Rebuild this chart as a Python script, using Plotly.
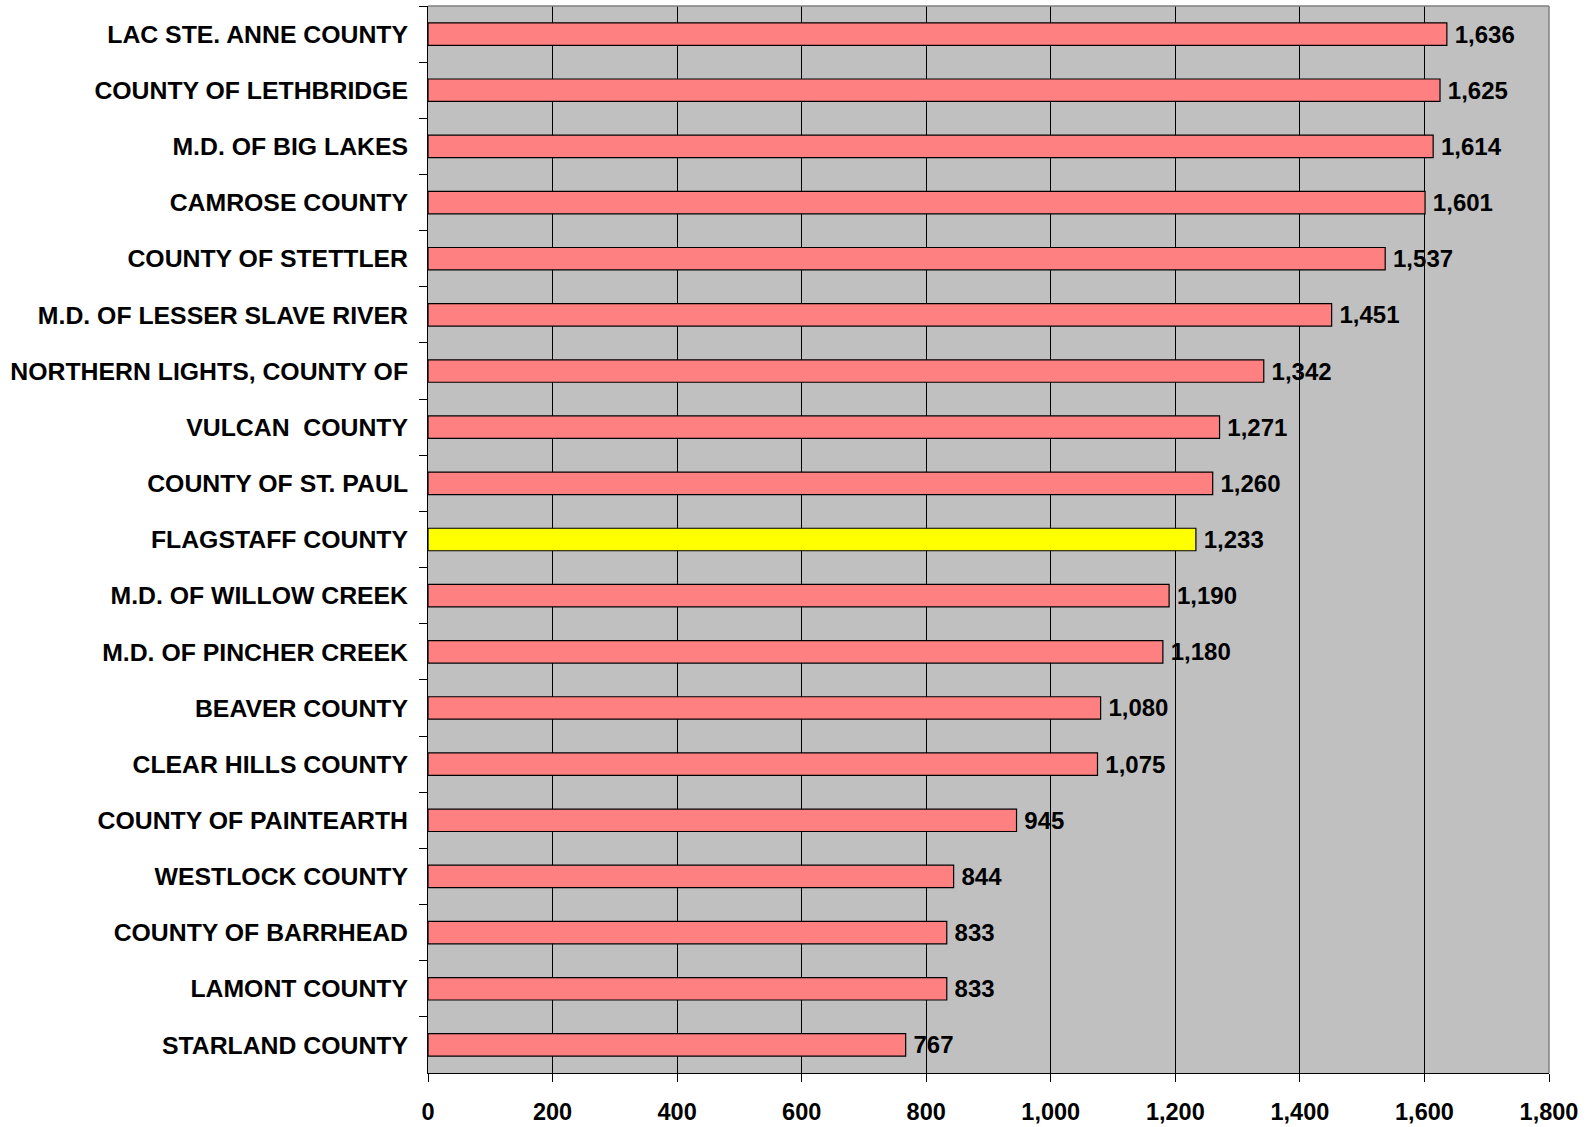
import plotly.graph_objects as go

# ==========================================
# Data (top to bottom, as shown)
# ==========================================
counties = [
    "LAC STE. ANNE COUNTY",
    "COUNTY OF LETHBRIDGE",
    "M.D. OF BIG LAKES",
    "CAMROSE COUNTY",
    "COUNTY OF STETTLER",
    "M.D. OF LESSER SLAVE RIVER",
    "NORTHERN LIGHTS, COUNTY OF",
    "VULCAN\u00a0 COUNTY",
    "COUNTY OF ST. PAUL",
    "FLAGSTAFF COUNTY",
    "M.D. OF WILLOW CREEK",
    "M.D. OF PINCHER CREEK",
    "BEAVER COUNTY",
    "CLEAR HILLS COUNTY",
    "COUNTY OF PAINTEARTH",
    "WESTLOCK COUNTY",
    "COUNTY OF BARRHEAD",
    "LAMONT COUNTY",
    "STARLAND COUNTY",
]
values = [1636, 1625, 1614, 1601, 1537, 1451, 1342, 1271, 1260, 1233,
          1190, 1180, 1080, 1075, 945, 844, 833, 833, 767]
highlight = "FLAGSTAFF COUNTY"

x_ticks = [0, 200, 400, 600, 800, 1000, 1200, 1400, 1600, 1800]

bar_colors = ["#FFFF00" if c == highlight else "#FF8080" for c in counties]


def bold(size):
    return dict(family="Liberation Sans, Arial, sans-serif", size=size,
                color="black", weight="bold")


fig = go.Figure(
    go.Bar(
        x=values,
        y=counties,
        orientation="h",
        marker=dict(color=bar_colors, line=dict(color="black", width=1.2)),
        text=values,
        texttemplate="\u2009%{x:,}",
        textposition="outside",
        constraintext="none",
        textfont=bold(24),
        cliponaxis=False,
    )
)

fig.update_layout(
    width=1593,
    height=1127,
    paper_bgcolor="white",
    plot_bgcolor="#C0C0C0",
    font=bold(24),
    bargap=0.6,
    showlegend=False,
    margin=dict(l=428, r=44, t=6, b=54),
)

fig.update_xaxes(
    range=[0, 1800],
    tickvals=x_ticks,
    tickformat=",",
    showgrid=True,
    gridcolor="black",
    gridwidth=1,
    zeroline=False,
    showline=True,
    linecolor="black",
    linewidth=1,
    ticks="outside",
    ticklen=8,
    tickcolor="black",
    ticklabelstandoff=10,
    tickfont=bold(23.5),
    automargin=False,
)

fig.update_yaxes(
    autorange="reversed",
    showgrid=False,
    zeroline=False,
    showline=True,
    linecolor="black",
    linewidth=1,
    ticks="outside",
    ticklen=8,
    tickcolor="black",
    tickson="boundaries",
    ticklabelstandoff=14,
    tickfont=bold(24.8),
    automargin=False,
)

# grey plot-area border on top and right
fig.add_shape(type="line", xref="paper", yref="paper", x0=0, x1=1, y0=1, y1=1,
              line=dict(color="#808080", width=1.5))
fig.add_shape(type="line", xref="paper", yref="paper", x0=1, x1=1, y0=0, y1=1,
              line=dict(color="#808080", width=1.5))

fig.write_html("out.html", config={"displayModeBar": False},
               post_script="document.body.style.margin='0';")
